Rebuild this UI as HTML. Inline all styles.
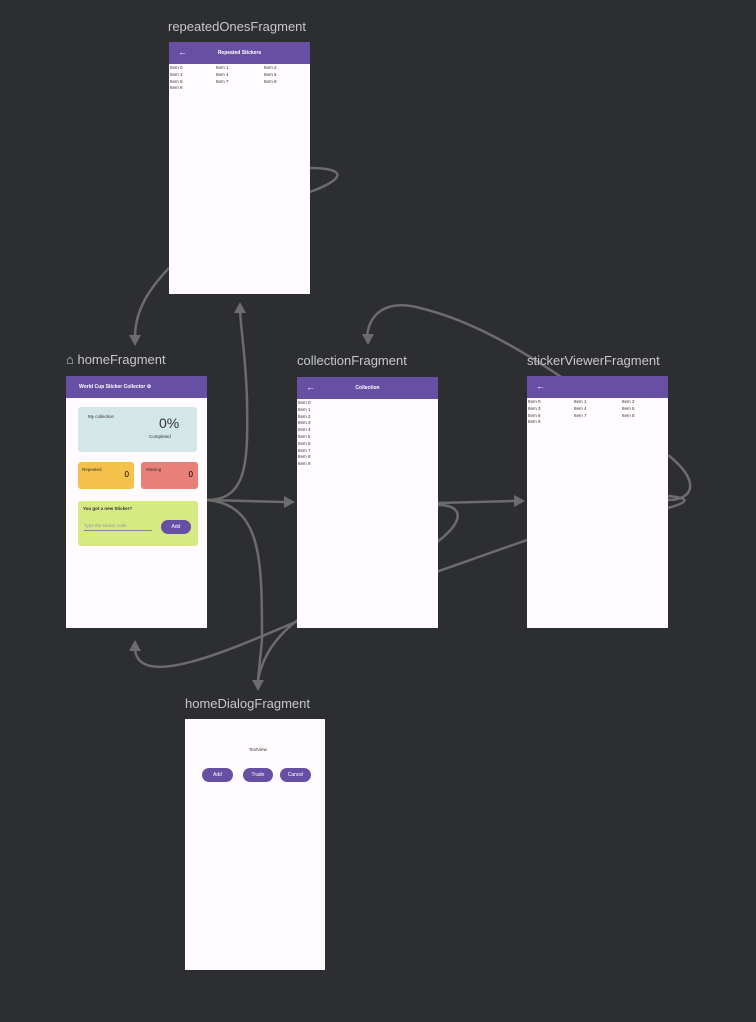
<!DOCTYPE html>
<html><head><meta charset="utf-8"><style>
body{margin:0;width:756px;height:1022px;background:#2d2e32;position:relative;overflow:hidden;font-family:"Liberation Sans",sans-serif}
.lbl{position:absolute;color:#c8c8c8;font-size:13px;font-weight:normal;letter-spacing:0}
.fr{position:absolute;background:#fffbfe;overflow:hidden}
.hd{position:absolute;left:0;top:0;right:0;height:22px;background:#6750a4;color:#fff;font-size:5px;font-weight:bold}
.hd .ar{position:absolute;left:9px;top:5px;font-size:9px}
.hd .t{position:absolute;left:0;right:0;top:8px;text-align:center}
.it{position:absolute;font-size:4.5px;color:#333;line-height:6.8px}
.card{position:absolute;border-radius:3px}
.btn{position:absolute;background:#6750a4;color:#fff;border-radius:8px;font-size:5px;text-align:center;line-height:14px}
svg{position:absolute;left:0;top:0}
</style></head><body>
<svg width="756" height="1022" style="z-index:0">
<g fill="none" stroke="#6c6c6c" stroke-width="2.5">
<path d="M169,268 C148,290 136,310 135,335"/>
<path d="M207,500 C248,500 248,460 247,400 C246,360 241,330 240,310"/>
<path d="M207,500 L284,502"/>
<path d="M207,500 C262,505 262,560 262,640 L258,680"/>
<path d="M438,503 L514,501"/>
<path d="M438,505 C470,505 465,530 408,560 C330,600 270,620 258,680"/>
<path d="M527,540 L300,620 C230,650 140,690 135,650"/>
<path d="M668,455 C700,480 695,500 668,500"/>
<path d="M668,508 C690,502 690,498 668,496"/>
<path d="M367,336 C370,310 390,300 420,308 C470,320 520,348 580,390"/>
<path d="M310,168 C345,168 348,178 310,192"/>
</g>
<g fill="#6c6c6c">
<path d="M129,335 L141,335 L135,346Z"/>
<path d="M234,313 L246,313 L240,302Z"/>
<path d="M284,496 L284,508 L295,502Z"/>
<path d="M514,495 L514,507 L525,501Z"/>
<path d="M252,680 L264,680 L258,691Z"/>
<path d="M129,651 L141,651 L135,640Z"/>
<path d="M362,334 L374,334 L368,345Z"/>
</g>
</svg>

<div class="lbl" style="left:168px;top:19px">repeatedOnesFragment</div>
<div class="fr" style="left:169px;top:42px;width:141px;height:252px">
<div class="hd"><span class="ar">←</span><div class="t">Repeated Stickers</div></div>
<div class="it" style="left:1px;top:23px">Item 0<br>Item 3<br>Item 6<br>Item 9</div>
<div class="it" style="left:47px;top:23px">Item 1<br>Item 4<br>Item 7</div>
<div class="it" style="left:95px;top:23px">Item 2<br>Item 5<br>Item 8</div>
</div>

<div class="lbl" style="left:66px;top:352px"><span style="font-size:13px">⌂</span> homeFragment</div>
<div class="fr" style="left:66px;top:376px;width:141px;height:252px">
<div class="hd"><div class="t" style="text-align:left;left:13px">World Cup Sticker Collector ⚙</div></div>
<div class="card" style="left:12px;top:31px;width:119px;height:45px;background:#d3e6e8">
<div class="it" style="left:10px;top:7px">My collection</div>
<div style="position:absolute;left:81px;top:8px;font-size:14px;color:#333">0%</div>
<div class="it" style="left:71px;top:27px">Completed</div></div>
<div class="card" style="left:12px;top:86px;width:56px;height:27px;background:#f4c24b">
<div class="it" style="left:4px;top:5px">Repeated</div><div style="position:absolute;right:5px;top:8px;font-size:8px">0</div></div>
<div class="card" style="left:75px;top:86px;width:57px;height:27px;background:#e88079">
<div class="it" style="left:5px;top:5px">Missing</div><div style="position:absolute;right:5px;top:8px;font-size:8px">0</div></div>
<div class="card" style="left:12px;top:125px;width:120px;height:45px;background:#d6e983">
<div class="it" style="left:5px;top:5px;font-weight:bold">You got a new Sticker?</div>
<div class="it" style="left:6px;top:22px;color:#999;border-bottom:1px solid #888;width:68px">Type the sticker code</div>
<div class="btn" style="left:83px;top:19px;width:30px;height:14px">Add</div></div>
</div>

<div class="lbl" style="left:297px;top:353px">collectionFragment</div>
<div class="fr" style="left:297px;top:377px;width:141px;height:251px">
<div class="hd"><span class="ar">←</span><div class="t">Collection</div></div>
<div class="it" style="left:1px;top:23px">Item 0<br>Item 1<br>Item 2<br>Item 3<br>Item 4<br>Item 5<br>Item 6<br>Item 7<br>Item 8<br>Item 9</div>
</div>

<div class="lbl" style="left:527px;top:353px">stickerViewerFragment</div>
<div class="fr" style="left:527px;top:376px;width:141px;height:252px">
<div class="hd"><span class="ar">←</span></div>
<div class="it" style="left:1px;top:23px">Item 0<br>Item 3<br>Item 6<br>Item 9</div>
<div class="it" style="left:47px;top:23px">Item 1<br>Item 4<br>Item 7</div>
<div class="it" style="left:95px;top:23px">Item 2<br>Item 5<br>Item 8</div>
</div>

<div class="lbl" style="left:185px;top:696px">homeDialogFragment</div>
<div class="fr" style="left:185px;top:719px;width:140px;height:251px">
<div class="it" style="left:64px;top:28px">TextView</div>
<div class="btn" style="left:17px;top:49px;width:31px;height:14px">Add</div>
<div class="btn" style="left:58px;top:49px;width:30px;height:14px">Trade</div>
<div class="btn" style="left:95px;top:49px;width:31px;height:14px">Cancel</div>
</div>
</body></html>
